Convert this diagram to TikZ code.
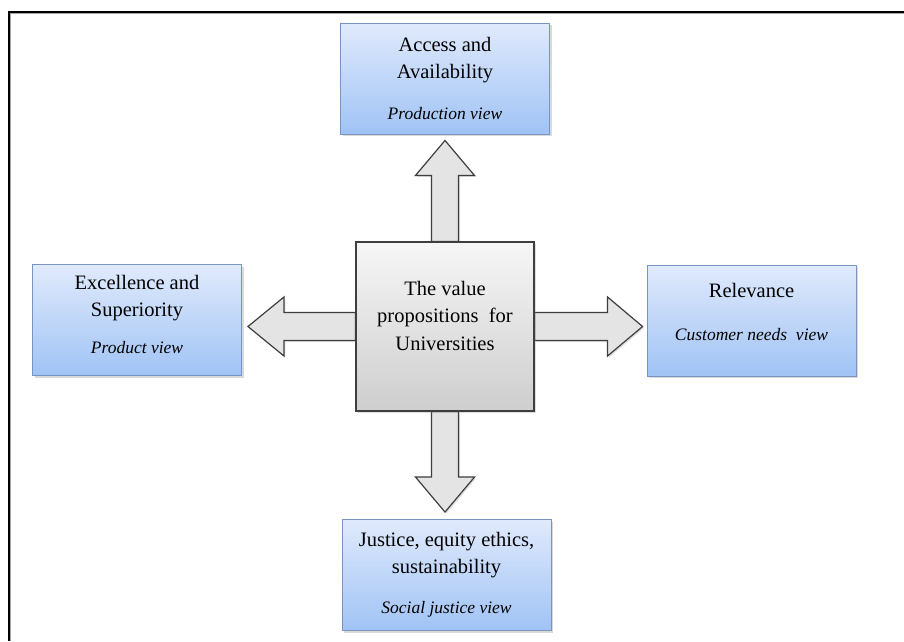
\documentclass[tikz,border=0pt]{standalone}
\usepackage{fontspec}
\setmainfont{Liberation Serif}
\usetikzlibrary{calc,shadows,backgrounds}

\definecolor{boxtop}{RGB}{224,234,252}
\definecolor{boxbot}{RGB}{160,195,245}
\definecolor{boxline}{RGB}{120,148,192}
\definecolor{hubtop}{RGB}{246,246,246}
\definecolor{hubbot}{RGB}{206,206,206}
\definecolor{hubline}{RGB}{62,62,62}
\definecolor{arrowfill}{RGB}{228,228,228}

\newcommand{\viewtext}[1]{{\fontsize{17.5}{27}\selectfont\itshape #1}}

\begin{document}
\begin{tikzpicture}[x=1pt,y=-1pt]
    \tikzset{
        valuebox/.style={draw=boxline, line width=0.9pt, top color=boxtop, bottom color=boxbot,
            minimum width=209pt, minimum height=111pt, inner sep=0pt, align=center,
            font=\fontsize{20.5}{27}\selectfont,
            drop shadow={opacity=0.3, shadow xshift=2pt, shadow yshift=-2pt}},
        hubbox/.style={draw=hubline, line width=1.2pt, top color=hubtop, bottom color=hubbot,
            minimum width=178pt, minimum height=169pt, inner sep=0pt, align=center,
            font=\fontsize{20.5}{27.5}\selectfont,
            drop shadow={opacity=0.25, shadow xshift=2pt, shadow yshift=-2pt}},
        fatarrow/.style={draw=hubline, line width=1.2pt, fill=arrowfill, line join=miter,
            drop shadow={opacity=0.25, shadow xshift=1.5pt, shadow yshift=-1.5pt}}
    }
    \useasboundingbox (0,0) rectangle (904,641);

    \draw[line width=2pt] (8.5,641) -- (8.5,11.5) -- (904,11.5);
    \draw[black!35, line width=0.8pt] (10.5,641) -- (10.5,13.5) -- (904,13.5);

    \node[valuebox] (access) at (445,78.5) {Access and\\Availability\\[14pt]\viewtext{Production view}};
    \node[valuebox, text depth=12pt] (excel) at (137,320) {Excellence and\\Superiority\\[10pt]\viewtext{Product view}};
    \node[valuebox, text depth=18pt] (relev) at (751.5,320.5) {Relevance\\[16pt]\viewtext{Customer needs~ view}};
    \node[valuebox] (justice) at (446.5,575) {Justice, equity ethics,\\sustainability\\[13pt]\viewtext{Social justice view}};

    \node[hubbox, text depth=22pt] (hub) at (445,326.5) {The value\\propositions~ for\\Universities};

    \coordinate (tipN) at ($(hub.north |- access.south)+(0,6)$);
    \coordinate (tipS) at ($(hub.south |- justice.north)+(0,-7)$);
    \coordinate (tipW) at ($(hub.west -| excel.east)+(6,0)$);
    \coordinate (tipE) at ($(hub.east -| relev.west)+(-4,0)$);

    \begin{pgfonlayer}{background}
    \draw[fatarrow] ($(hub.north)+(-13.5,0)$) -- ($(tipN)+(-13.5,35)$) -- ($(tipN)+(-29.5,35)$) -- (tipN)
        -- ($(tipN)+(29.5,35)$) -- ($(tipN)+(13.5,35)$) -- ($(hub.north)+(13.5,0)$) -- cycle;
    \draw[fatarrow] ($(hub.south)+(-13.5,0)$) -- ($(tipS)+(-13.5,-35)$) -- ($(tipS)+(-29.5,-35)$) -- (tipS)
        -- ($(tipS)+(29.5,-35)$) -- ($(tipS)+(13.5,-35)$) -- ($(hub.south)+(13.5,0)$) -- cycle;
    \draw[fatarrow] ($(hub.west)+(0,-14)$) -- ($(tipW)+(36,-14)$) -- ($(tipW)+(36,-29.5)$) -- (tipW)
        -- ($(tipW)+(36,29.5)$) -- ($(tipW)+(36,14)$) -- ($(hub.west)+(0,14)$) -- cycle;
    \draw[fatarrow] ($(hub.east)+(0,-14)$) -- ($(tipE)+(-35,-14)$) -- ($(tipE)+(-35,-29.5)$) -- (tipE)
        -- ($(tipE)+(-35,29.5)$) -- ($(tipE)+(-35,14)$) -- ($(hub.east)+(0,14)$) -- cycle;
    \end{pgfonlayer}
\end{tikzpicture}
\end{document}
